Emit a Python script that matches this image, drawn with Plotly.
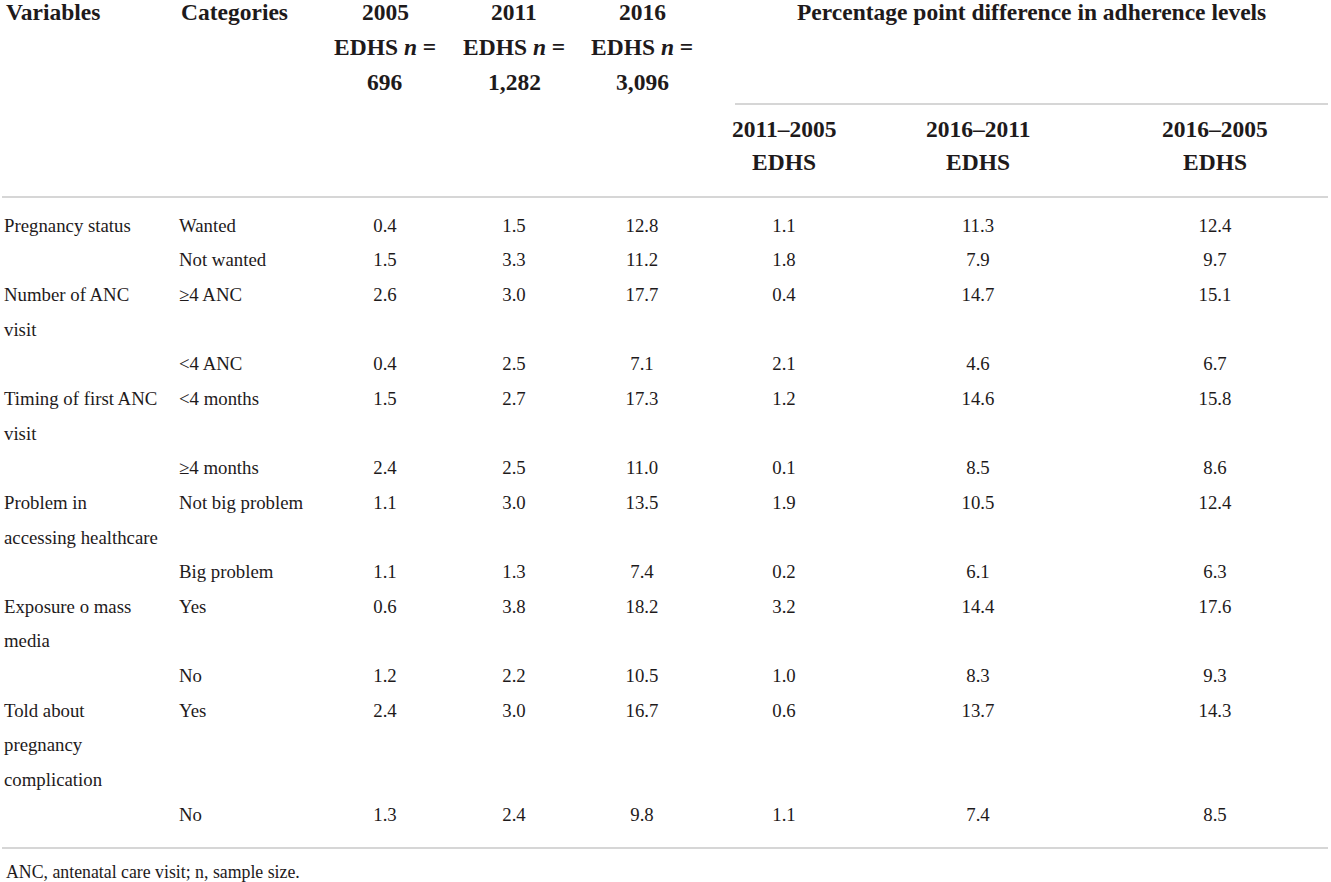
import plotly.graph_objects as go

# table content
variables = [
    ["Pregnancy status"],
    ["Number of ANC", "visit"],
    ["Timing of first ANC", "visit"],
    ["Problem in", "accessing healthcare"],
    ["Exposure o mass", "media"],
    ["Told about", "pregnancy", "complication"],
]
categories = ["Wanted", "Not wanted", "≥4 ANC", "<4 ANC", "<4 months", "≥4 months",
              "Not big problem", "Big problem", "Yes", "No", "Yes", "No"]
edhs_2005 = [0.4, 1.5, 2.6, 0.4, 1.5, 2.4, 1.1, 1.1, 0.6, 1.2, 2.4, 1.3]
edhs_2011 = [1.5, 3.3, 3.0, 2.5, 2.7, 2.5, 3.0, 1.3, 3.8, 2.2, 3.0, 2.4]
edhs_2016 = [12.8, 11.2, 17.7, 7.1, 17.3, 11.0, 13.5, 7.4, 18.2, 10.5, 16.7, 9.8]
diff_2011_2005 = [1.1, 1.8, 0.4, 2.1, 1.2, 0.1, 1.9, 0.2, 3.2, 1.0, 0.6, 1.1]
diff_2016_2011 = [11.3, 7.9, 14.7, 4.6, 14.6, 8.5, 10.5, 6.1, 14.4, 8.3, 13.7, 7.4]
diff_2016_2005 = [12.4, 9.7, 15.1, 6.7, 15.8, 8.6, 12.4, 6.3, 17.6, 9.3, 14.3, 8.5]

year_headers = ["2005", "2011", "2016"]
sample_sizes = ["696", "1,282", "3,096"]
diff_headers = ["2011–2005", "2016–2011", "2016–2005"]
footnote = "ANC, antenatal care visit; n, sample size."

W, H = 1331, 882
FONT = "Liberation Serif"
INK = "#1e1a1b"
RULE = "#c9c9c9"
FS = 18.8

# layout of the table (pixels)
x_var, x_cat = 4, 179
num_cols_x = [385, 514, 642, 784, 978, 1215]
first_line_y, line_h = 227, 34.65

# work out which text line every row / label sits on
row_line, var_lines = [], []
line = 0
for i, lines in enumerate(variables):
    for k, t in enumerate(lines):
        var_lines.append((line + k, t))
    row_line.append(line)
    row_line.append(line + len(lines))
    line = line + len(lines) + 1

def ly(n):
    return first_line_y + line_h * n

fig = go.Figure()

fig.add_trace(go.Scatter(
    x=[x_var] * len(var_lines), y=[ly(n) for n, _ in var_lines],
    text=[t for _, t in var_lines], mode="text", textposition="middle right",
    textfont=dict(family=FONT, size=FS, color=INK), hoverinfo="skip"))

fig.add_trace(go.Scatter(
    x=[x_cat] * len(categories), y=[ly(n) for n in row_line],
    text=categories, mode="text", textposition="middle right",
    textfont=dict(family=FONT, size=FS, color=INK), hoverinfo="skip"))

for cx, col in zip(num_cols_x, [edhs_2005, edhs_2011, edhs_2016,
                                diff_2011_2005, diff_2016_2011, diff_2016_2005]):
    fig.add_trace(go.Scatter(
        x=[cx] * len(col), y=[ly(n) for n in row_line],
        text=[f"{v:.1f}" for v in col], mode="text", textposition="middle center",
        textfont=dict(family=FONT, size=FS, color=INK), hoverinfo="skip"))

hdr = dict(family=FONT, size=23.5, color=INK)
ann = [
    dict(x=x_var, y=12, text="<b>Variables</b>", xanchor="left"),
    dict(x=x_cat, y=12, text="<b>Categories</b>", xanchor="left"),
    dict(x=1031, y=12, text="<b>Percentage point difference in adherence levels</b>", xanchor="center"),
]
for cx, yr, n in zip(num_cols_x[:3], year_headers, sample_sizes):
    ann.append(dict(x=cx, y=12, text=f"<b>{yr}</b>", xanchor="center"))
    ann.append(dict(x=cx, y=47, text="<b>EDHS <i>n</i> =</b>", xanchor="center"))
    ann.append(dict(x=cx, y=82, text=f"<b>{n}</b>", xanchor="center"))
for cx, d in zip(num_cols_x[3:], diff_headers):
    ann.append(dict(x=cx, y=129, text=f"<b>{d}</b>", xanchor="center"))
    ann.append(dict(x=cx, y=162, text="<b>EDHS</b>", xanchor="center"))
for a in ann:
    a.update(xref="x", yref="y", yanchor="middle", showarrow=False, font=hdr)
ann.append(dict(x=x_var, y=872, xref="x", yref="y", text=footnote, xanchor="left",
                yanchor="middle", showarrow=False,
                font=dict(family=FONT, size=17.8, color=INK)))

shapes = [
    dict(type="line", x0=735, x1=1328, y0=104, y1=104),
    dict(type="line", x0=2, x1=1328, y0=197, y1=197),
    dict(type="line", x0=2, x1=1328, y0=848, y1=848),
]
for s in shapes:
    s.update(xref="x", yref="y", line=dict(color=RULE, width=1.5))

fig.update_layout(
    width=W, height=H, margin=dict(l=0, r=0, t=0, b=0),
    paper_bgcolor="white", plot_bgcolor="white", showlegend=False,
    annotations=ann, shapes=shapes,
    xaxis=dict(range=[0, W], visible=False, fixedrange=True),
    yaxis=dict(range=[H, 0], visible=False, fixedrange=True),
)

# the page body has a default 8px margin; drop it so the table sits at the corner
fig.write_html("out.html", post_script="document.body.style.margin='0';",
               config={"displayModeBar": False})
